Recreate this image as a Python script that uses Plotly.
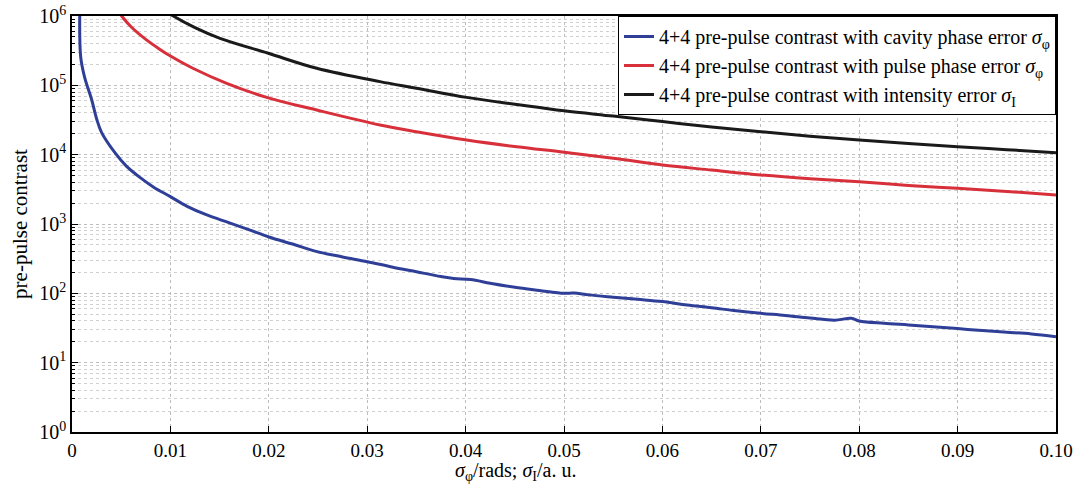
import plotly.graph_objects as go

# ---- data ----
blue_x = [0.00080, 0.00088, 0.0013, 0.0020, 0.0025, 0.0030, 0.0044, 0.0055, 0.0069, 0.0083, 0.0100,
          0.0117, 0.0137, 0.0160, 0.0181, 0.0200, 0.0225, 0.0249, 0.0275, 0.0300, 0.0325,
          0.0350, 0.0375, 0.0388, 0.0405, 0.0425, 0.0450, 0.0475, 0.0500, 0.0510, 0.0525,
          0.0550, 0.0575, 0.0600, 0.0625, 0.0650, 0.0675, 0.0700, 0.0725, 0.0750, 0.0775,
          0.0792, 0.0800, 0.0825, 0.0850, 0.0875, 0.0900, 0.0925, 0.0950, 0.0975, 0.1000]
blue_y = [1.5e6, 2.6e5, 1.28e5, 6.2e4, 3.3e4, 2.1e4, 1.05e4, 6.9e3, 4.7e3, 3.4e3, 2.48e3,
          1.8e3, 1.35e3, 1.04e3, 815, 650, 510, 400, 335, 286, 240,
          205, 175, 164, 158, 140, 122, 110, 100, 101, 95,
          88, 82, 76, 68, 62, 56, 51.5, 48, 44, 41,
          43.6, 40, 37, 35, 33, 31, 29, 27.5, 26, 23.7]

red_x = [0.0045, 0.00505, 0.0060, 0.0075, 0.00894, 0.0100, 0.01233, 0.01572, 0.01995, 0.02487, 0.0313,
         0.0350, 0.0401, 0.0452, 0.0496, 0.0550, 0.0600, 0.0650, 0.0700, 0.0750, 0.0800,
         0.0850, 0.0900, 0.0950, 0.1000]
red_y = [1.3e6, 1.0e6, 7.0e5, 4.6e5, 3.3e5, 2.65e5, 1.75e5, 1.07e5, 6.6e4, 4.4e4, 2.68e4,
         2.14e4, 1.63e4, 1.3e4, 1.10e4, 8.9e3, 7.1e3, 6.0e3, 5.1e3, 4.5e3, 4.07e3,
         3.6e3, 3.27e3, 2.95e3, 2.62e3]

black_x = [0.0093, 0.0103, 0.0125, 0.01504, 0.01995, 0.02487, 0.0313, 0.0350, 0.0401, 0.0452, 0.0500,
           0.0550, 0.0600, 0.0650, 0.0700, 0.0750, 0.0800, 0.0850, 0.0900, 0.0950, 0.1000]
black_y = [1.25e6, 1.0e6, 6.8e5, 4.76e5, 2.9e5, 1.76e5, 1.13e5, 9.1e4, 6.7e4, 5.3e4, 4.3e4,
           3.6e4, 3.0e4, 2.5e4, 2.14e4, 1.85e4, 1.63e4, 1.45e4, 1.30e4, 1.18e4, 1.07e4]

series_names = [
    "4+4 pre-pulse contrast with cavity phase error <i>σ</i><sub>φ</sub>",
    "4+4 pre-pulse contrast with pulse phase error <i>σ</i><sub>φ</sub>",
    "4+4 pre-pulse contrast with intensity error <i>σ</i><sub>I</sub>",
]
series_colors = ["#2f3f98", "#d8303a", "#1a1a1a"]

x_tickvals = [0, 0.01, 0.02, 0.03, 0.04, 0.05, 0.06, 0.07, 0.08, 0.09, 0.10]
x_ticktext = ["0", "0.01", "0.02", "0.03", "0.04", "0.05", "0.06", "0.07", "0.08", "0.09", "0.10"]
y_exponents = [0, 1, 2, 3, 4, 5, 6]
y_tickvals = [10 ** e for e in y_exponents]
y_ticktext = ["10<sup>%d</sup>" % e for e in y_exponents]
y_minor = [m * 10 ** e for e in y_exponents[:-1] for m in range(2, 10)]

FONT = "Liberation Serif"

fig = go.Figure()
for xs, ys, name, col in zip([blue_x, red_x, black_x], [blue_y, red_y, black_y],
                             series_names, series_colors):
    fig.add_trace(go.Scatter(x=xs, y=ys, mode="lines", name=name,
                             line=dict(color=col, width=3, shape="spline", smoothing=1.0)))

fig.update_layout(
    width=1079, height=488,
    margin=dict(l=72, r=23, t=16, b=56, autoexpand=False),
    paper_bgcolor="white", plot_bgcolor="white",
    font=dict(family=FONT, size=19, color="black"),
    showlegend=True,
    legend=dict(x=1.0, y=1.0, xanchor="right", yanchor="top",
                bgcolor="white", bordercolor="black", borderwidth=1,
                font=dict(family=FONT, size=20, color="black"), tracegroupgap=0,
                itemwidth=30),
    annotations=[dict(
        text="<i>σ</i><sub>φ</sub>/rads; <i>σ</i><sub>I</sub>/a. u.",
        xref="paper", yref="paper", x=0.451, y=-0.131, xanchor="center", yanchor="bottom",
        showarrow=False, font=dict(family=FONT, size=20, color="black"))],
)

fig.update_xaxes(
    range=[0, 0.1], tickvals=x_tickvals, ticktext=x_ticktext,
    ticks="inside", ticklen=6, tickwidth=1, tickcolor="black",
    showline=True, linecolor="black", linewidth=1.5, mirror=True,
    showgrid=True, gridcolor="#bdbdbd", griddash="dot", gridwidth=1,
    zeroline=False, tickfont=dict(family=FONT, size=19),
)
fig.update_yaxes(
    type="log", range=[0, 6], tickvals=y_tickvals, ticktext=y_ticktext,
    ticks="inside", ticklen=6, tickwidth=1, tickcolor="black",
    showline=True, linecolor="black", linewidth=1.5, mirror=True,
    showgrid=True, gridcolor="#bdbdbd", griddash="dot", gridwidth=1,
    zeroline=False, tickfont=dict(family=FONT, size=20),
    minor=dict(tickmode="array", tickvals=y_minor, ticks="inside", ticklen=3,
               tickcolor="black", showgrid=True, gridcolor="#d0d0d0", griddash="dot", gridwidth=1),
    title=dict(text="pre-pulse contrast", font=dict(family=FONT, size=21), standoff=6),
)

fig.write_html("out.html")
